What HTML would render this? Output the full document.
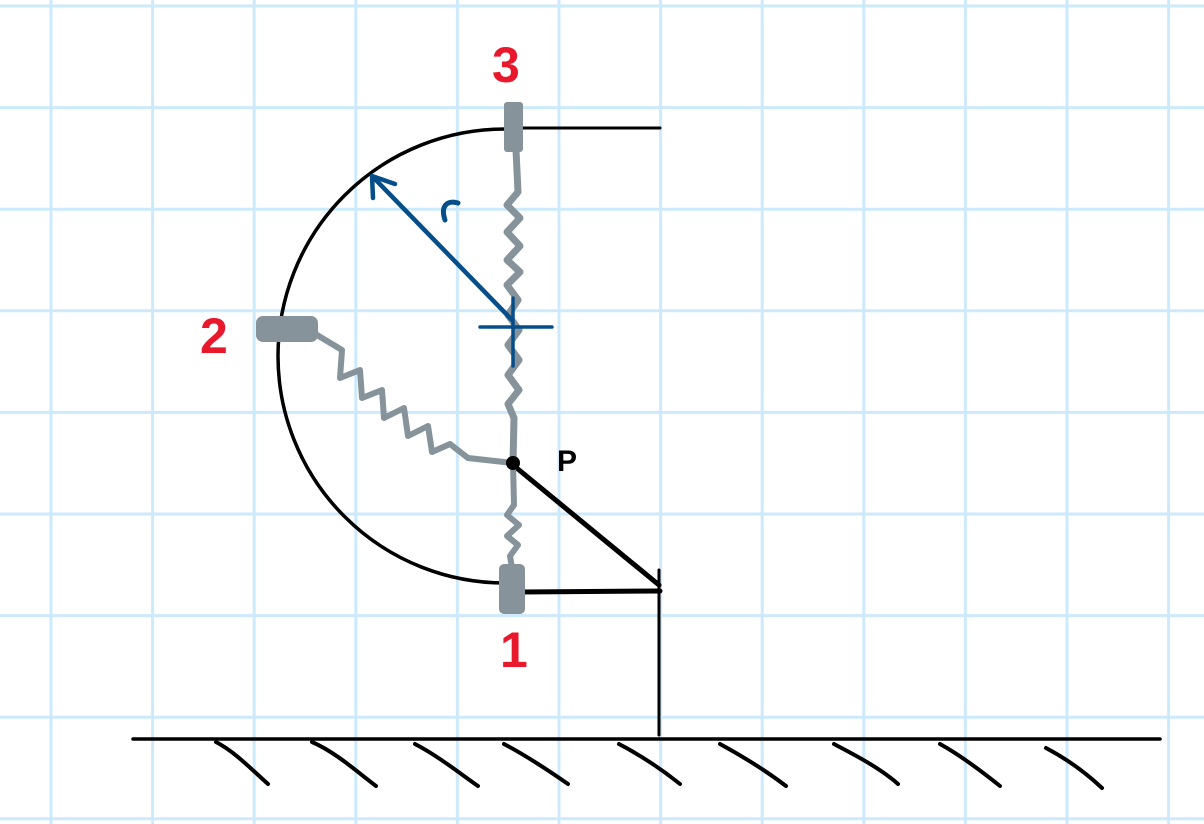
<!DOCTYPE html>
<html><head><meta charset="utf-8"><style>
html,body{margin:0;padding:0;background:#fff;}
svg{display:block}
text{font-family:"Liberation Sans",sans-serif;}
</style></head><body>
<svg width="1204" height="824" viewBox="0 0 1204 824">
<g id="grid" stroke="#cdeafc" stroke-width="3"></g>
<script>
const g=document.getElementById('grid');
for(let i=0;i<12;i++){const x=51+i*101.6;const l=document.createElementNS('http://www.w3.org/2000/svg','line');l.setAttribute('x1',x);l.setAttribute('x2',x);l.setAttribute('y1',0);l.setAttribute('y2',824);


g.appendChild(l);}
for(let i=0;i<9;i++){const y=6+i*101.6;const l=document.createElementNS('http://www.w3.org/2000/svg','line');l.setAttribute('x1',0);l.setAttribute('x2',1204);l.setAttribute('y1',y);l.setAttribute('y2',y);


g.appendChild(l);}
</script>
<g fill="none" stroke-linecap="round" stroke-linejoin="round">
<path d="M505,129 A227,227 0 0 0 505,583" stroke="#000" stroke-width="3.5"/>
<path d="M522,128 L660,128" stroke="#000" stroke-width="3"/>
<path d="M522,592 L660,591" stroke="#000" stroke-width="5"/>
<path d="M659,570 L659,735" stroke="#000" stroke-width="3"/>
<path d="M513,465 L659,585" stroke="#000" stroke-width="5"/>
<path d="M516,150 L518,192 L507,205 L520,218 L507,232 L520,246 L507,260 L520,272 L507,285 L518,300 L508,315 L519,330 L508,345 L519,360 L508,375 L519,390 L508,404 L514,418 L513,463" stroke="#86939a" stroke-width="7"/>
<path d="M513,463 L514,505 L507,515 L519,525 L507,536 L518,545 L510,556 L512,568" stroke="#86939a" stroke-width="6"/>
<path d="M312,332 L342,350 L340,378 L360,370 L362,398 L382,390 L384,418 L404,408 L408,436 L428,426 L432,452 L450,444 L468,458 L513,463" stroke="#86939a" stroke-width="6"/>
<rect x="504" y="102" width="19" height="50" rx="3" fill="#86939a" stroke="none"/>
<rect x="499" y="564" width="26" height="50" rx="5" fill="#86939a" stroke="none"/>
<rect x="256" y="316" width="62" height="26" rx="7" fill="#86939a" stroke="none"/>
<path d="M512,320 L372,176 M372,176 L373,198 M372,176 L395,184" stroke="#064e8a" stroke-width="4.5"/>
<path d="M480,327 L552,327 M513,298 L513,366" stroke="#064e8a" stroke-width="3.5"/>
<path d="M445,220 C440,205 448,200 458,203" stroke="#064e8a" stroke-width="5"/>
<path d="M133,739 L1160,739" stroke="#000" stroke-width="3.5"/>
<g stroke="#000" stroke-width="4">
<path d="M216,742 C235,752 250,768 268,784"/>
<path d="M312,742 C335,752 355,770 376,786"/>
<path d="M415,744 C438,756 458,772 478,786"/>
<path d="M504,744 C525,755 545,768 568,784"/>
<path d="M619,744 C640,755 660,768 680,784"/>
<path d="M720,744 C742,756 765,770 786,786"/>
<path d="M834,744 C855,755 880,768 898,784"/>
<path d="M940,744 C960,755 980,770 1000,786"/>
<path d="M1046,748 C1065,758 1085,772 1102,788"/>
</g>
</g>
<circle cx="513" cy="463" r="7" fill="#000"/>
<text x="557" y="471" font-size="30" font-weight="bold" fill="#000">P</text>
<text x="492" y="82" font-size="50" font-weight="bold" fill="#e8192c">3</text>
<text x="200" y="353" font-size="50" font-weight="bold" fill="#e8192c">2</text>
<text x="500" y="667" font-size="50" font-weight="bold" fill="#e8192c">1</text>
</svg>
</body></html>
